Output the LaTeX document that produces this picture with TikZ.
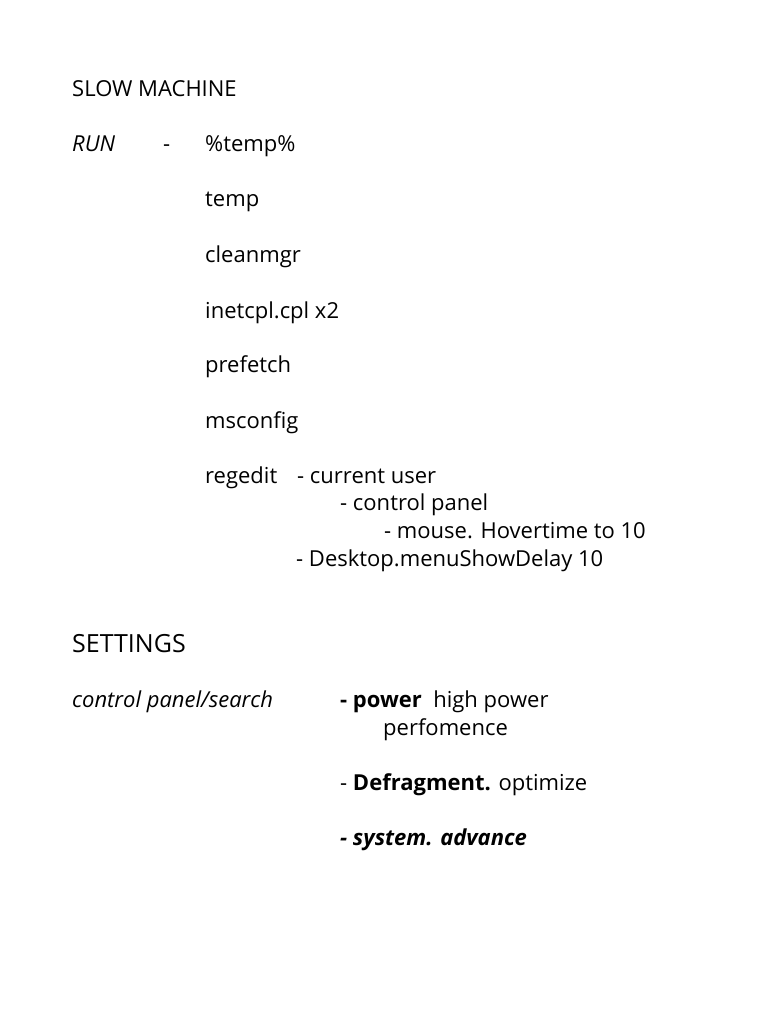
\documentclass[tikz,border=0pt]{standalone}
\usepackage{fontspec}
\setmainfont{Open Sans}
\begin{document}
\begin{tikzpicture}[x=1pt,y=-1pt,t/.style={anchor=base west,inner sep=0pt,font=\fontsize{22}{26}\selectfont}]
\useasboundingbox[fill=white] (0,0) rectangle (768,1024);
\node[t] (h1) at (72,97) {SLOW MACHINE};
\node[t,font=\fontsize{22}{26}\selectfont\itshape] (run) at (72,152) {RUN};
\node[t] (d) at (163,152) {-};
\node[t] (a1) at (205,152) {\%temp\%};
\node[t] (a2) at (205,207) {temp};
\node[t] (a3) at (205,262) {cleanmgr};
\node[t] (a4) at (205,318) {inetcpl.cpl x2};
\node[t] (a5) at (205,372) {prefetch};
\node[t] (a6) at (205,428) {msconfig};
\node[t] (a7) at (205,483) {regedit};
\node[t] (a8) at (297,483) {- current user};
\node[t] (a9) at (340,510) {- control panel};
\node[t] (a10) at (384,538) {- mouse. Hovertime to 10};
\node[t] (a11) at (296,566) {- Desktop.menuShowDelay 10};
\node[t,font=\fontsize{25}{30}\selectfont] (h2) at (72,652) {SETTINGS};
\node[t,font=\fontsize{22}{26}\selectfont\itshape] (cp) at (72,707) {control panel/search};
\node[t] (p1) at (340,707) {\textbf{- power}\ \ high power};
\node[t] (p2) at (383,735) {perfomence};
\node[t] (p3) at (340,790) {- \textbf{Defragment.} optimize};
\node[t,font=\fontsize{22}{26}\selectfont\bfseries\itshape] (p4) at (340,845) {- system. advance};
\end{tikzpicture}
\end{document}
